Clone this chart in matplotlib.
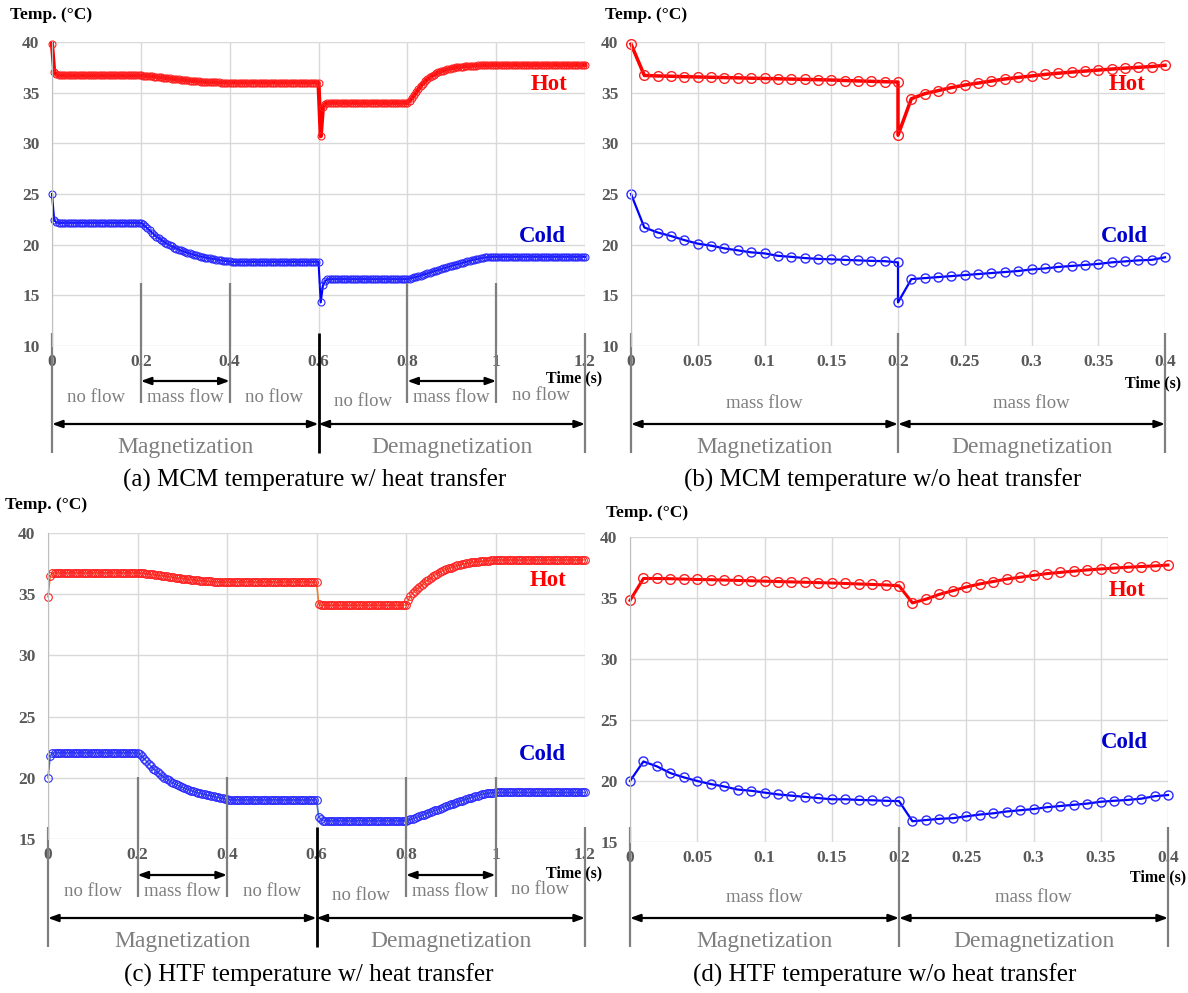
import numpy as np
import matplotlib
matplotlib.use("Agg")
import matplotlib.pyplot as plt
import matplotlib.transforms as mtransforms

plt.rcParams["font.family"] = ["Liberation Serif", "DejaVu Serif"]

W, H = 1188, 993

# ---------------- data ----------------
# (a)/(c): 0 - 1.2 s, one sample every 5 ms
t_long = np.round(np.arange(241) * 0.005, 3)
# (b): 0 - 0.4 s every 10 ms, the switch at 0.2 s is stored twice
t_b = np.round(np.concatenate([np.arange(21), np.arange(20, 41)]) * 0.01, 3)
# (d): 0 - 0.4 s every 10 ms
t_d = np.round(np.arange(41) * 0.01, 3)

# (a) MCM temperature w/ heat transfer
hot_a = ([39.8, 37.0, 36.8] + [36.7] * 38 +
         [36.69, 36.67, 36.65, 36.63, 36.61, 36.58, 36.56, 36.53, 36.51, 36.48,
          36.46, 36.43, 36.41, 36.38, 36.36, 36.33, 36.31, 36.28, 36.26, 36.23,
          36.21, 36.19, 36.17, 36.15, 36.13, 36.11, 36.09, 36.08, 36.06, 36.05,
          36.04, 36.03, 36.02, 36.01, 36.01, 36.0, 36.0, 36.0, 36.0, 36.0] +
         [36.0] * 40 +
         [30.7, 33.6, 33.9] + [34.0] * 37 +
         [34.2, 34.45, 34.75, 35.05, 35.35, 35.65, 35.9, 36.12, 36.32, 36.5,
          36.65, 36.78, 36.9, 37.0, 37.09, 37.17, 37.24, 37.3, 37.36, 37.41,
          37.45, 37.49, 37.52, 37.55, 37.58, 37.6, 37.62, 37.64, 37.66, 37.67,
          37.68, 37.69, 37.7, 37.71, 37.72, 37.72, 37.73, 37.73, 37.74, 37.74] +
         [37.75] * 40)
cold_a = ([25.0, 22.4, 22.2] + [22.15] * 38 +
          [22.0, 21.8, 21.6, 21.4, 21.2, 21.0, 20.8, 20.65, 20.5, 20.35,
           20.2, 20.07, 19.95, 19.83, 19.72, 19.62, 19.52, 19.43, 19.35, 19.27,
           19.2, 19.13, 19.06, 19.0, 18.94, 18.88, 18.83, 18.78, 18.73, 18.69,
           18.65, 18.61, 18.57, 18.53, 18.5, 18.46, 18.43, 18.4, 18.37, 18.35] +
          [18.3] * 40 +
          [14.3, 16.0, 16.4] + [16.6] * 37 +
          [16.65, 16.7, 16.76, 16.82, 16.88, 16.95, 17.02, 17.09, 17.16, 17.23,
           17.3, 17.37, 17.44, 17.51, 17.58, 17.65, 17.72, 17.79, 17.86, 17.92,
           17.98, 18.04, 18.1, 18.16, 18.22, 18.28, 18.34, 18.4, 18.46, 18.52,
           18.57, 18.62, 18.67, 18.71, 18.74, 18.76, 18.78, 18.79, 18.8, 18.8] +
          [18.8] * 40)

# (b) MCM temperature w/o heat transfer
hot_b = [39.8, 36.7, 36.65, 36.62, 36.58, 36.55, 36.52, 36.49, 36.46, 36.43,
         36.4, 36.37, 36.34, 36.31, 36.28, 36.25, 36.2, 36.16, 36.12, 36.08, 36.05,
         30.8, 34.4, 34.9, 35.2, 35.5, 35.75, 35.95, 36.15, 36.35, 36.5,
         36.65, 36.8, 36.92, 37.03, 37.13, 37.23, 37.33, 37.42, 37.5, 37.58, 37.7]
cold_b = [25.0, 21.7, 21.2, 20.85, 20.45, 20.1, 19.9, 19.63, 19.44, 19.24,
          19.14, 18.9, 18.8, 18.68, 18.6, 18.55, 18.5, 18.45, 18.4, 18.37, 18.25,
          14.3, 16.6, 16.7, 16.8, 16.9, 17.0, 17.1, 17.2, 17.3, 17.4,
          17.55, 17.65, 17.8, 17.9, 18.0, 18.1, 18.25, 18.35, 18.45, 18.5, 18.75]

# (c) HTF temperature w/ heat transfer
hot_c = ([34.8, 36.5, 36.7] + [36.75] * 38 +
         [36.74, 36.72, 36.7, 36.68, 36.66, 36.63, 36.61, 36.58, 36.56, 36.53,
          36.51, 36.48, 36.46, 36.43, 36.41, 36.38, 36.36, 36.33, 36.31, 36.28,
          36.26, 36.23, 36.21, 36.19, 36.17, 36.15, 36.13, 36.11, 36.09, 36.08,
          36.06, 36.05, 36.04, 36.03, 36.02, 36.01, 36.01, 36.0, 36.0, 36.0] +
         [36.0] * 40 +
         [34.2, 34.1, 34.1] + [34.1] * 37 +
         [34.5, 34.85, 35.1, 35.3, 35.45, 35.6, 35.75, 35.9, 36.05, 36.2,
          36.33, 36.46, 36.58, 36.69, 36.79, 36.88, 36.96, 37.04, 37.11, 37.18,
          37.24, 37.3, 37.35, 37.4, 37.45, 37.49, 37.53, 37.56, 37.59, 37.62,
          37.65, 37.67, 37.69, 37.71, 37.73, 37.74, 37.75, 37.76, 37.77, 37.78] +
         [37.8] * 40)
cold_c = ([20.0, 21.8, 22.0] + [22.05] * 38 +
          [21.95, 21.75, 21.55, 21.35, 21.15, 20.95, 20.75, 20.6, 20.45, 20.3,
           20.15, 20.02, 19.9, 19.78, 19.67, 19.57, 19.47, 19.38, 19.3, 19.22,
           19.15, 19.08, 19.01, 18.95, 18.89, 18.83, 18.78, 18.73, 18.68, 18.64,
           18.6, 18.56, 18.52, 18.48, 18.44, 18.4, 18.36, 18.32, 18.28, 18.24] +
          [18.2] * 40 +
          [16.8, 16.6, 16.5] + [16.5] * 37 +
          [16.55, 16.6, 16.66, 16.72, 16.78, 16.85, 16.92, 16.99, 17.06, 17.13,
           17.2, 17.27, 17.34, 17.41, 17.48, 17.55, 17.62, 17.69, 17.76, 17.83,
           17.9, 17.96, 18.02, 18.08, 18.14, 18.2, 18.26, 18.32, 18.38, 18.44,
           18.5, 18.55, 18.6, 18.65, 18.7, 18.73, 18.76, 18.78, 18.79, 18.8] +
          [18.8] * 40)

# (d) HTF temperature w/o heat transfer
hot_d = [34.8, 36.6, 36.6, 36.58, 36.55, 36.52, 36.5, 36.47, 36.44, 36.41,
         36.38, 36.35, 36.32, 36.29, 36.26, 36.23, 36.19, 36.15, 36.11, 36.07, 36.0,
         34.6, 34.9, 35.3, 35.6, 35.9, 36.15, 36.35, 36.55, 36.7, 36.85,
         37.0, 37.1, 37.2, 37.3, 37.38, 37.45, 37.52, 37.58, 37.63, 37.7]
cold_d = [20.0, 21.6, 21.2, 20.65, 20.3, 20.0, 19.75, 19.55, 19.3, 19.2,
          19.05, 18.9, 18.8, 18.7, 18.6, 18.5, 18.5, 18.45, 18.42, 18.38, 18.35,
          16.7, 16.8, 16.9, 16.95, 17.1, 17.25, 17.35, 17.5, 17.6, 17.7,
          17.85, 17.95, 18.05, 18.15, 18.3, 18.38, 18.45, 18.55, 18.75, 18.85]

long_ticks = [0, 0.2, 0.4, 0.6, 0.8, 1.0, 1.2]
long_ticklabels = ["0", "0.2", "0.4", "0.6", "0.8", "1", "1.2"]
short_ticks = [0, 0.05, 0.1, 0.15, 0.2, 0.25, 0.3, 0.35, 0.4]
short_ticklabels = ["0", "0.05", "0.1", "0.15", "0.2", "0.25", "0.3", "0.35", "0.4"]

long_phases = [0, 0.2, 0.4, 0.6, 0.8, 1.0, 1.2]
long_flow = ["no flow", "mass flow", "no flow", "no flow", "mass flow", "no flow"]
short_phases = [0, 0.2, 0.4]
short_flow = ["mass flow", "mass flow"]

captions = ["(a) MCM temperature w/ heat transfer",
            "(b) MCM temperature w/o heat transfer",
            "(c) HTF temperature w/ heat transfer",
            "(d) HTF temperature w/o heat transfer"]

GRAY = "#7F7F7F"
TICK = "#595959"

fig = plt.figure(figsize=(W / 100, H / 100), dpi=100)


def fy(ypx):
    return 1 - ypx / H


def make_axes(l, t, r, b):
    return fig.add_axes([l / W, 1 - b / H, (r - l) / W, (b - t) / H])


def style(ax, ticks, ticklabels, ymin):
    ax.set_xlim(ticks[0], ticks[-1])
    ax.set_ylim(ymin, 40)
    ax.set_xticks(ticks)
    ax.set_xticklabels(ticklabels)
    ax.set_yticks(np.arange(ymin, 41, 5))
    ax.grid(color="#D9D9D9", lw=1)
    ax.set_axisbelow(True)
    for s in ["top", "right", "bottom"]:
        ax.spines[s].set_visible(False)
    ax.spines["left"].set_color("#BFBFBF")
    ax.tick_params(length=0, labelsize=12.5, labelcolor=TICK)
    ax.tick_params(axis="x", pad=6)
    ax.tick_params(axis="y", pad=9)
    for lab in ax.get_xticklabels() + ax.get_yticklabels():
        lab.set_fontweight("bold")


def vline(ax, x, y0, y1, color=GRAY, lw=1.6):
    tr = mtransforms.blended_transform_factory(ax.transData, fig.transFigure)
    ax.plot([x, x], [fy(y0), fy(y1)], transform=tr, color=color, lw=lw,
            clip_on=False, solid_capstyle="butt")


def arrow(ax, x0, x1, ypx):
    tr = mtransforms.blended_transform_factory(ax.transData, fig.transFigure)
    ax.annotate("", xy=(x1, fy(ypx)), xytext=(x0, fy(ypx)), xycoords=tr, textcoords=tr,
                arrowprops=dict(arrowstyle="<|-|>,head_length=0.6,head_width=0.22",
                                color="black", lw=1.6, shrinkA=0, shrinkB=0))


def label(ax, x, ypx, s, **kw):
    tr = mtransforms.blended_transform_factory(ax.transData, fig.transFigure)
    ax.text(x, fy(ypx), s, transform=tr, ha="center", va="center", clip_on=False, **kw)


def phases_long(ax, dy):
    for x in [0.2, 0.4, 0.8, 1.0]:
        vline(ax, x, 283 + dy, 403 + dy)
    for x in [0, 1.2]:
        vline(ax, x, 333 + dy, 453 + dy)
    vline(ax, 0.6, 333 + dy, 453 + dy, color="black", lw=2)
    arrow(ax, 0.2, 0.4, 381 + dy)
    arrow(ax, 0.8, 1.0, 381 + dy)
    shift = [0, 0, 0, 5, 0, -2]
    for i, s in enumerate(long_flow):
        mid = (long_phases[i] + long_phases[i + 1]) / 2
        label(ax, mid, 397 + dy + shift[i], s, fontsize=13.5, color=GRAY)
    arrow(ax, 0, 0.6, 424 + dy)
    arrow(ax, 0.6, 1.2, 424 + dy)
    label(ax, 0.3, 447 + dy, "Magnetization", fontsize=17, color=GRAY)
    label(ax, 0.9, 447 + dy, "Demagnetization", fontsize=17, color=GRAY)


def phases_short(ax, dy):
    for x in short_phases:
        vline(ax, x, 333 + dy, 453 + dy)
    for i, s in enumerate(short_flow):
        mid = (short_phases[i] + short_phases[i + 1]) / 2
        label(ax, mid, 403 + dy, s, fontsize=13.5, color=GRAY)
    arrow(ax, 0, 0.2, 424 + dy)
    arrow(ax, 0.2, 0.4, 424 + dy)
    label(ax, 0.1, 447 + dy, "Magnetization", fontsize=17, color=GRAY)
    label(ax, 0.3, 447 + dy, "Demagnetization", fontsize=17, color=GRAY)


HOT_MK = dict(marker="o", mfc="none", mec="#FF2020", color="#FF0000", clip_on=False)
COLD_MK = dict(marker="o", mfc="none", mec="#2A2AFF", color="#0000FF", clip_on=False)

# (a)
ax_a = make_axes(52, 42, 585, 346)
style(ax_a, long_ticks, long_ticklabels, 10)
ax_a.plot(t_long, hot_a, lw=3, ms=5, mew=0.8, **HOT_MK)
ax_a.plot(t_long, cold_a, lw=1.5, ms=5, mew=0.8, **COLD_MK)
phases_long(ax_a, 0)

# (b)
ax_b = make_axes(631, 42, 1165, 346)
style(ax_b, short_ticks, short_ticklabels, 10)
ax_b.plot(t_b, hot_b, lw=2.5, ms=7, mew=1, **HOT_MK)
ax_b.plot(t_b, cold_b, lw=1.6, ms=6.5, mew=1, **COLD_MK)
phases_short(ax_b, 0)

# (c)
ax_c = make_axes(48, 533, 585, 839)
style(ax_c, long_ticks, long_ticklabels, 15)
ax_c.plot(t_long, hot_c, lw=1.2, ms=5.5, mew=0.8, marker="o", mfc="none",
          mec="#FF2020", color="#ED7D31", clip_on=False)
ax_c.plot(t_long, cold_c, lw=1.2, ms=5.5, mew=0.8, marker="o", mfc="none",
          mec="#2A2AFF", color="#4472C4", clip_on=False)
phases_long(ax_c, 494)

# (d)
ax_d = make_axes(630, 537, 1168, 842)
style(ax_d, short_ticks, short_ticklabels, 15)
ax_d.plot(t_d, hot_d, lw=2.2, ms=7, mew=1, **HOT_MK)
ax_d.plot(t_d, cold_d, lw=1.6, ms=6.5, mew=1, **COLD_MK)
phases_short(ax_d, 494)

# hot / cold tags
tag = dict(fontsize=16.5, fontweight="bold", ha="left", va="center")
for ax, hx, hy, cx, cy in [(ax_a, 531, 85, 519, 237), (ax_b, 1109, 85, 1101, 237),
                           (ax_c, 530, 580, 519, 754), (ax_d, 1109, 590, 1101, 743)]:
    fig.text(hx / W, fy(hy), "Hot", color="#FF0000", **tag)
    fig.text(cx / W, fy(cy), "Cold", color="#0000CC", **tag)

# axis titles and captions
for x, y in [(10, 15), (605, 15), (5, 505), (606, 513)]:
    fig.text(x / W, fy(y), "Temp. (\u00b0C)", fontsize=12.5, fontweight="bold",
             ha="left", va="center")
for x, y in [(546, 378), (1125, 383), (546, 873), (1130, 877)]:
    fig.text(x / W, fy(y), "Time (s)", fontsize=11.5, fontweight="bold",
             ha="left", va="center")
for cap, x, y in zip(captions, [315, 883, 309, 885], [480, 480, 975, 975]):
    fig.text(x / W, fy(y), cap, fontsize=18, ha="center", va="center")

fig.savefig("out.png", dpi=100)
